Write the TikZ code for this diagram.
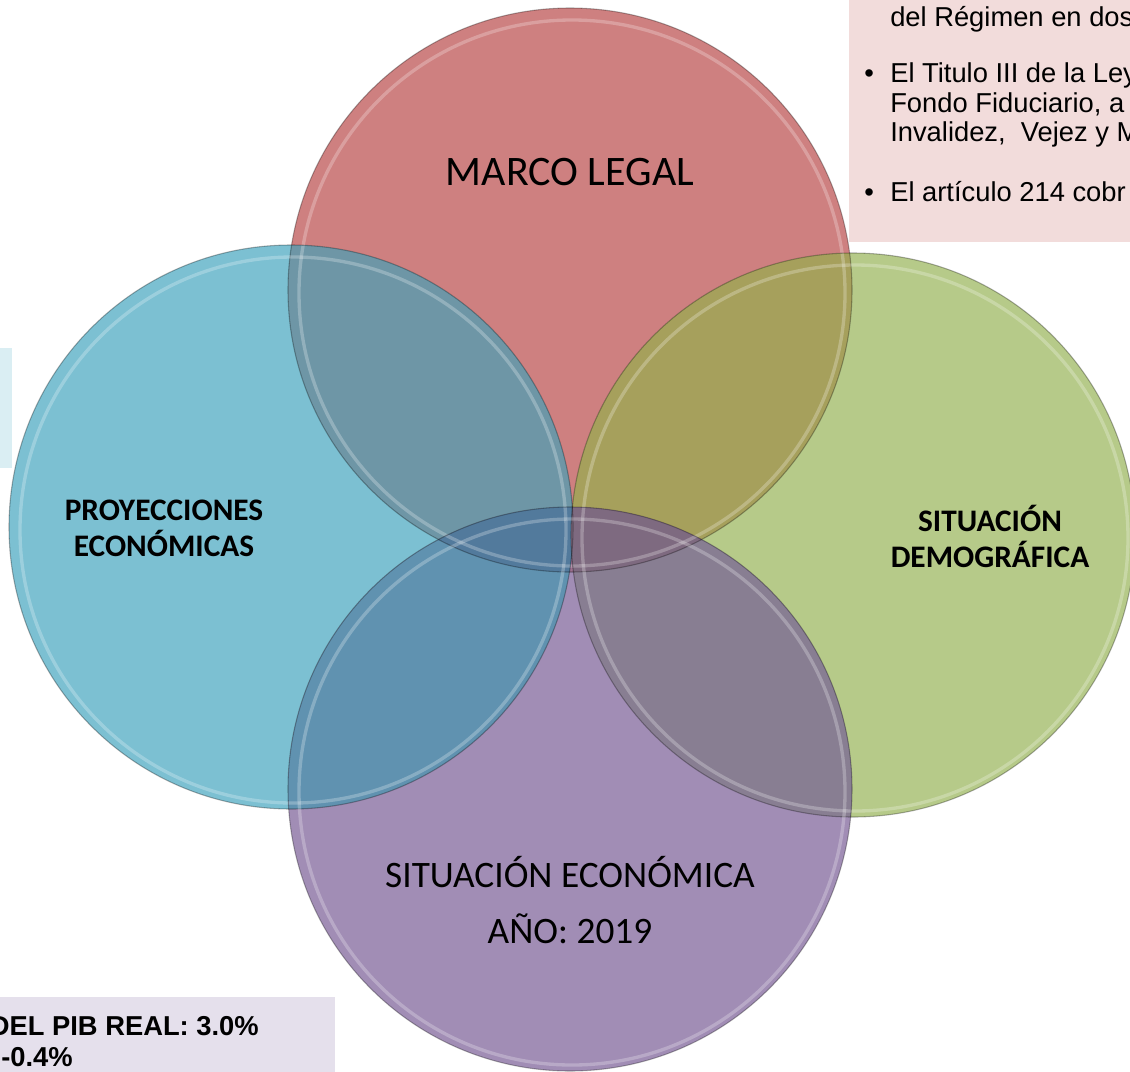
\documentclass[tikz,border=0pt]{standalone}
\usepackage{fontspec}
\setmainfont{Carlito}
\newfontfamily\arialf{Liberation Sans}
\definecolor{cR}{RGB}{206,128,128}
\definecolor{cB}{RGB}{124,192,210}
\definecolor{cG}{RGB}{182,202,137}
\definecolor{cP}{RGB}{161,141,181}
\definecolor{cRB}{RGB}{110,150,166}
\definecolor{cRG}{RGB}{166,160,92}
\definecolor{cRP}{RGB}{156,112,144}
\definecolor{cBP}{RGB}{96,146,176}
\definecolor{cGP}{RGB}{136,126,146}
\definecolor{cRBP}{RGB}{82,122,156}
\definecolor{cRGP}{RGB}{126,106,128}
\definecolor{boxpink}{RGB}{242,220,219}
\definecolor{boxblue}{RGB}{218,238,243}
\definecolor{boxlav}{RGB}{229,224,236}
\tikzset{
  biglab/.style={font=\fontsize{31.5}{38}\selectfont, text=black, align=center, inner sep=0pt},
  midlab/.style={font=\fontsize{28}{42}\selectfont, text=black, align=center, inner sep=0pt},
  boldlab/.style={font=\fontsize{23.5}{27}\selectfont\bfseries, text=black, align=center, inner sep=0pt},
  rtxt/.style={font=\arialf\fontsize{20.5}{24}\selectfont, text=black, anchor=base west, inner sep=0pt},
  btxt/.style={font=\arialf\fontsize{20.5}{24}\selectfont\bfseries, text=black, inner sep=0pt},
  rimout/.style={draw=black, draw opacity=0.3, line width=0.8pt},
  rimin/.style={draw=white, draw opacity=0.25, line width=2.5pt},
}
\begin{document}
\begin{tikzpicture}[x=0.75pt,y=-0.75pt]
\useasboundingbox (0,0) rectangle (1130,1071);
\clip (0,0) rectangle (1130,1071);
% side boxes
\fill[boxpink] (849,-5) rectangle (1135,242);
\fill[boxblue] (-5,348) rectangle (12,468);
\fill[boxlav] (-5,997) rectangle (335,1076);
% circle centres
\coordinate (R) at (570,290);
\coordinate (B) at (291,527);
\coordinate (G) at (853,535);
\coordinate (P) at (570,789);
\def\rr{282}
% single fills
\fill[cR] (R) circle (\rr);
\fill[cB] (B) circle (\rr);
\fill[cG] (G) circle (\rr);
\fill[cP] (P) circle (\rr);
% pair overlaps
\begin{scope}\clip (R) circle (\rr); \fill[cRB] (B) circle (\rr); \end{scope}
\begin{scope}\clip (R) circle (\rr); \fill[cRG] (G) circle (\rr); \end{scope}
\begin{scope}\clip (R) circle (\rr); \fill[cRP] (P) circle (\rr); \end{scope}
\begin{scope}\clip (B) circle (\rr); \fill[cBP] (P) circle (\rr); \end{scope}
\begin{scope}\clip (G) circle (\rr); \fill[cGP] (P) circle (\rr); \end{scope}
% triple overlaps
\begin{scope}\clip (R) circle (\rr); \clip (B) circle (\rr); \fill[cRBP] (P) circle (\rr); \end{scope}
\begin{scope}\clip (R) circle (\rr); \clip (G) circle (\rr); \fill[cRGP] (P) circle (\rr); \end{scope}
% glassy rims
\foreach \c in {R,B,G,P}{
  \draw[rimin] ([shift={(2,3)}]\c) circle (\rr-9);
  \draw[rimout] (\c) circle (\rr);
}
% circle labels
\node[biglab] (marco) at (570,172) {MARCO LEGAL};
\node[boldlab] (proy) at (164,528) {PROYECCIONES\\ECONÓMICAS};
\node[boldlab] (demo) at (990,536) {SITUACIÓN\\DEMOGRÁFICA};
\node[midlab] (econ) at (570,900) {SITUACIÓN ECONÓMICA\\AÑO: 2019};
% top-right text
\node[rtxt] (t1) at (890,26) {del Régimen en dos};
\node[rtxt] (b1) at (864,82) {•};
\node[rtxt] (t2) at (890,82) {El Titulo III de la Ley};
\node[rtxt] (t3) at (890,112) {Fondo Fiduciario, a};
\node[rtxt] (t4) at (890,141) {Invalidez,\ \ Vejez y M};
\node[rtxt] (b2) at (864,201) {•};
\node[rtxt] (t5) at (890,201) {El artículo 214 cobr};
% bottom-left text
\node[btxt, anchor=base east] (p1) at (259,1035) {DEL PIB REAL: 3.0\%};
\node[btxt, anchor=base west] (p2) at (1,1066) {-0.4\%};
\end{tikzpicture}
\end{document}
